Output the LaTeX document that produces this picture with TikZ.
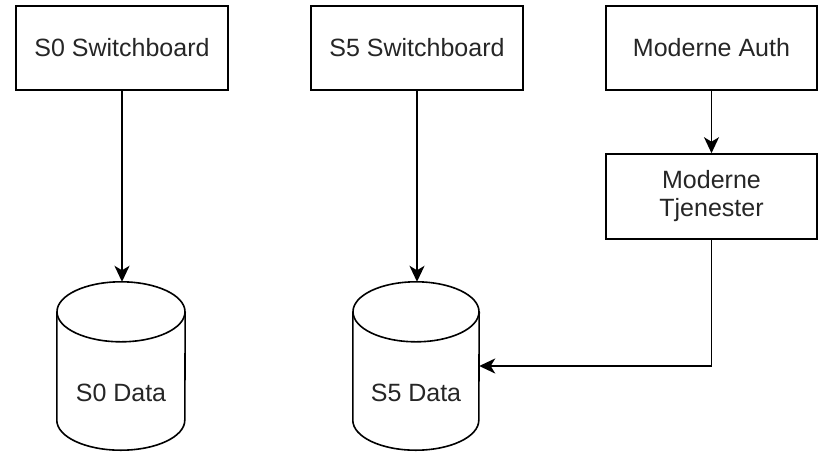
\documentclass[tikz,border=0pt]{standalone}
\usepackage{fontspec}
\setmainfont{Liberation Sans}
\usetikzlibrary{arrows.meta}

\begin{document}
\begin{tikzpicture}[x=1pt,y=-1pt,
  every node/.style={font=\fontsize{25}{28}\selectfont, text=black!85, inner sep=0pt},
  box/.style={draw=black, line width=1.6pt, fill=white, align=center,
              minimum width=212pt, minimum height=84pt},
  dbslot/.style={minimum width=128pt, minimum height=168pt},
  wire/.style={line width=1.8pt},
  tip/.style={-{Stealth[length=16pt,width=15pt,inset=4.5pt]}}
]
  % canvas
  \path[use as bounding box] (0,0) rectangle (819,451);

  % rectangular services
  \node[box] (s0sw) at (122,48) {S0 Switchboard};
  \node[box] (s5sw) at (417,48) {S5 Switchboard};
  \node[box, minimum width=211pt] (auth) at (711.5,48) {Moderne Auth};
  \node[box, minimum width=211pt, minimum height=85pt] (tj) at (711.5,196.5) {Moderne\\Tjenester};

  % database cylinders (named slots, outline drawn below)
  \node[dbslot] (s0db) at (121,366) {};
  \node[dbslot, minimum width=126pt] (s5db) at (416,366) {};

  \foreach \db/\rx in {s0db/64pt, s5db/63pt} {
    \draw[line width=1.6pt]
      ([yshift=-30pt]\db.north west) -- ([yshift=30pt]\db.south west)
      arc[start angle=180, end angle=360, x radius=\rx, y radius=30pt]
      -- ([yshift=-30pt]\db.north east);
    \draw[line width=1.6pt] ([yshift=-30pt]\db.north) ellipse[x radius=\rx, y radius=30pt];
  }
  \node (s0lbl) at (121,393) {S0 Data};
  \node (s5lbl) at (416,393) {S5 Data};

  % connectors
  \draw[wire, tip] (s0sw.south) -- (s0sw.south |- s0db.north);
  \draw[wire, tip] (s5sw.south) -- (s5sw.south |- s5db.north);
  \draw[wire, tip] (auth.south) -- (tj.north);
  \draw[wire, tip] (tj.south) |- (s5db.east);
\end{tikzpicture}
\end{document}
